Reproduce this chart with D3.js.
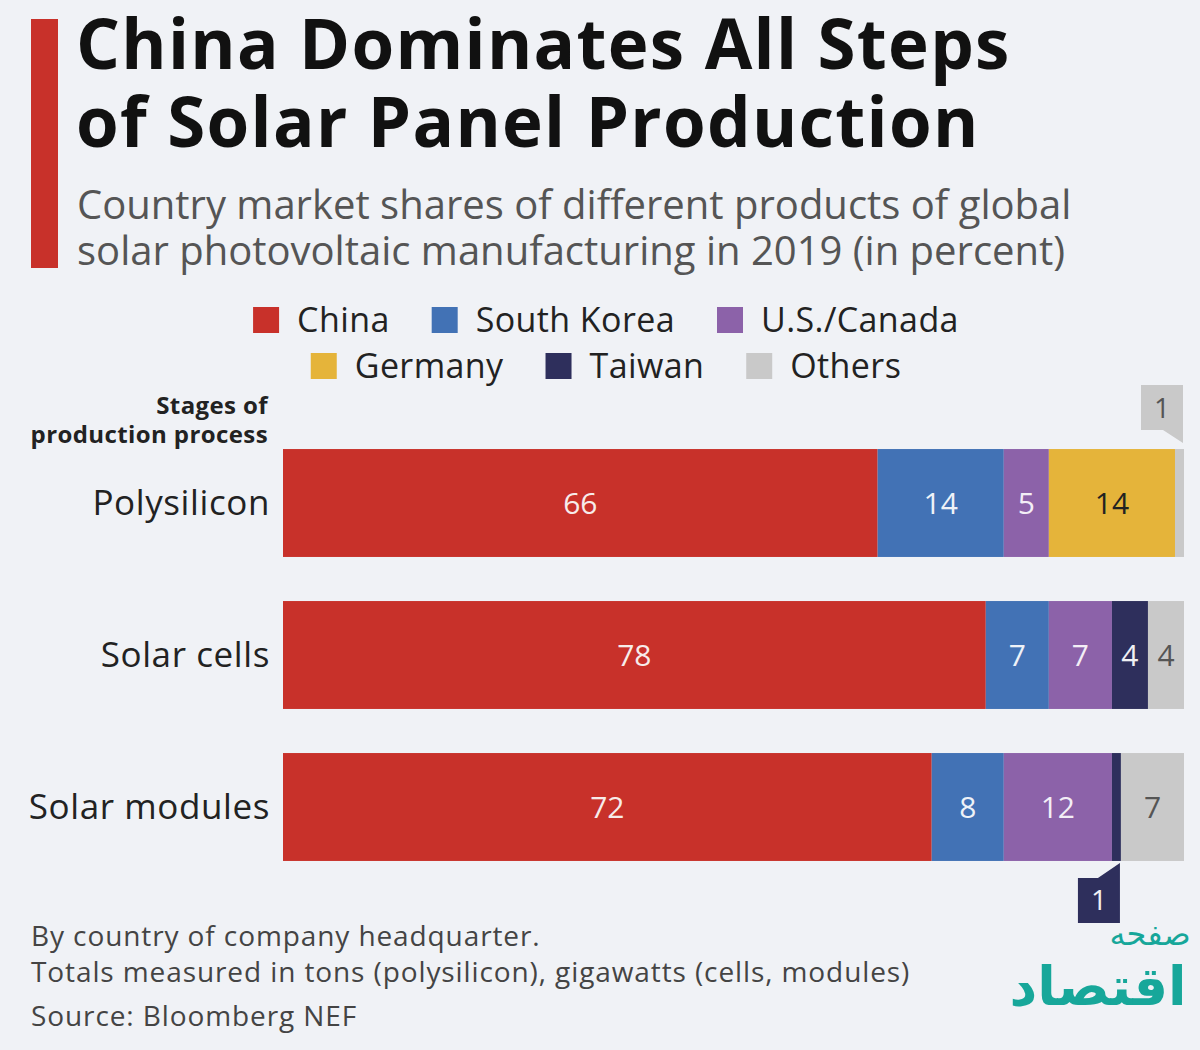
<!DOCTYPE html>
<html>
<head>
<meta charset="utf-8">
<script src="https://cdn.jsdelivr.net/npm/d3@7"></script>
<style>
  body { margin: 0; background: #f0f2f6; }
  svg { display: block; }
</style>
</head>
<body>
<div id="viz"></div>
<script>
// data (percent)
const stages = ["Polysilicon", "Solar cells", "Solar modules"];
const countries = ["China", "South Korea", "U.S./Canada", "Germany", "Taiwan", "Others"];
const china = [66, 78, 72];
const southKorea = [14, 7, 8];
const usCanada = [5, 7, 12];
const germany = [14, 0, 0];
const taiwan = [0, 4, 1];
const others = [1, 4, 7];

const colors = ["#c8312a", "#4272b5", "#8c62a9", "#e5b43a", "#2e2f5c", "#c9c9c9"];
const labelColors = ["#f7ecea", "#eef2f8", "#f3eef6", "#222222", "#f0f0f4", "#555555"];

const width = 1200, height = 1050;
const font = "'Open Sans', sans-serif";

const svg = d3.select("#viz").append("svg")
    .attr("width", width)
    .attr("height", height);

svg.append("rect").attr("width", width).attr("height", height).attr("fill", "#f0f2f6");

// red accent bar
svg.append("rect")
    .attr("x", 31).attr("y", 19)
    .attr("width", 27).attr("height", 249)
    .attr("fill", "#c8312a");

// title + subtitle
const title = svg.append("text")
    .attr("font-family", font)
    .attr("font-weight", 700)
    .attr("font-size", 69)
    .attr("letter-spacing", 1.3)
    .attr("fill", "#111");
title.append("tspan").attr("x", 76).attr("y", 69).text("China Dominates All Steps");
title.append("tspan").attr("x", 76).attr("y", 147).text("of Solar Panel Production");

const sub = svg.append("text")
    .attr("font-family", font)
    .attr("font-size", 40)
    .attr("fill", "#555");
sub.append("tspan").attr("x", 77).attr("y", 219).text("Country market shares of different products of global");
sub.append("tspan").attr("x", 77).attr("y", 265).text("solar photovoltaic manufacturing in 2019 (in percent)");

// legend, two centred rows
const legendRows = [[0, 1, 2], [3, 4, 5]];
const legendY = [320, 366];
legendRows.forEach((row, r) => {
    const g = svg.append("g");
    let x = 0;
    row.forEach(i => {
        g.append("rect")
            .attr("x", x).attr("y", legendY[r] - 13)
            .attr("width", 26).attr("height", 26)
            .attr("fill", colors[i]);
        const t = g.append("text")
            .attr("x", x + 44).attr("y", legendY[r] + 12)
            .attr("font-family", font)
            .attr("font-size", 34)
            .attr("letter-spacing", 0.4)
            .attr("fill", "#222")
            .text(countries[i]);
        x += 44 + t.node().getComputedTextLength() + 42;
    });
    const w = x - 42;
    g.attr("transform", `translate(${606 - w / 2},0)`);
});

// axis heading
const head = svg.append("text")
    .attr("font-family", font)
    .attr("font-weight", 700)
    .attr("font-size", 24)
    .attr("letter-spacing", 0.4)
    .attr("fill", "#222")
    .attr("text-anchor", "end");
head.append("tspan").attr("x", 268).attr("y", 414).text("Stages of");
head.append("tspan").attr("x", 268).attr("y", 443).text("production process");

// scales
const x = d3.scaleLinear().domain([0, 100]).range([283, 1184]);
const y = d3.scaleBand().domain(stages).range([427, 883]).paddingInner(0.29).paddingOuter(0.145);

const series = [china, southKorea, usCanada, germany, taiwan, others];
const rows = stages.map((s, j) => {
    const o = { stage: s };
    countries.forEach((c, i) => { o[c] = series[i][j]; });
    return o;
});
const stacked = d3.stack().keys(countries)(rows);

const layers = svg.append("g").selectAll("g")
    .data(stacked)
    .join("g")
    .attr("fill", (d, i) => colors[i]);

layers.selectAll("rect")
    .data(d => d)
    .join("rect")
    .attr("x", d => x(d[0]))
    .attr("y", d => y(d.data.stage))
    .attr("width", d => x(d[1]) - x(d[0]))
    .attr("height", y.bandwidth());

// values inside segments
stacked.forEach((layer, i) => {
    layer.forEach(d => {
        const v = d[1] - d[0];
        if (v < 2) return;
        svg.append("text")
            .attr("x", (x(d[0]) + x(d[1])) / 2)
            .attr("y", y(d.data.stage) + y.bandwidth() / 2 + 11)
            .attr("text-anchor", "middle")
            .attr("font-family", font)
            .attr("font-size", 30)
            .attr("fill", labelColors[i])
            .text(v);
    });
});

// small 1% callouts
stacked.forEach((layer, i) => {
    layer.forEach((d, j) => {
        const v = d[1] - d[0];
        if (v !== 1) return;
        const right = x(d[1]) - 1;
        const bw = 42, bh = 45;
        const top = y(d.data.stage), bottom = top + y.bandwidth();
        let pts;
        if (j === 0) {
            // above the bar
            const by = top - 64;
            pts = [[right - bw, by], [right, by], [right, top - 6], [right - 20, by + bh], [right - bw, by + bh]];
        } else {
            const by = bottom + 17;
            pts = [[right - bw, by], [right - 22, by], [right, bottom + 2], [right, by + bh], [right - bw, by + bh]];
        }
        svg.append("path")
            .attr("d", d3.line()(pts) + "Z")
            .attr("fill", colors[i]);
        const ty = j === 0 ? top - 64 + bh / 2 + 10 : bottom + 17 + bh / 2 + 10;
        svg.append("text")
            .attr("x", right - bw / 2)
            .attr("y", ty)
            .attr("text-anchor", "middle")
            .attr("font-family", font)
            .attr("font-size", 28)
            .attr("fill", i === 5 ? "#555" : "#f0f0f4")
            .text(v);
    });
});

// category labels
svg.append("g").selectAll("text")
    .data(stages)
    .join("text")
    .attr("x", 270)
    .attr("y", d => y(d) + y.bandwidth() / 2 + 12)
    .attr("text-anchor", "end")
    .attr("font-family", font)
    .attr("font-size", 35)
    .attr("letter-spacing", 0.6)
    .attr("fill", "#222")
    .text(d => d);

// notes
const notes = ["By country of company headquarter.",
    "Totals measured in tons (polysilicon), gigawatts (cells, modules)",
    "Source: Bloomberg NEF"];
const noteY = [946, 982, 1026];
svg.append("g").selectAll("text")
    .data(notes)
    .join("text")
    .attr("x", 31)
    .attr("y", (d, i) => noteY[i])
    .attr("font-family", font)
    .attr("font-size", 28)
    .attr("letter-spacing", 0.9)
    .attr("fill", "#444")
    .text(d => d);

// watermark of the reposting site
svg.append("text")
    .attr("x", 1098).attr("y", 1005)
    .attr("text-anchor", "middle")
    .attr("font-family", "'DejaVu Sans', sans-serif")
    .attr("font-weight", 700)
    .attr("font-size", 54)
    .attr("fill", "#17a79a")
    .text("اقتصاد");
svg.append("text")
    .attr("x", 1150).attr("y", 945)
    .attr("text-anchor", "middle")
    .attr("font-family", "'DejaVu Sans', sans-serif")
    .attr("font-size", 32)
    .attr("fill", "#17a79a")
    .text("صفحه");
</script>
</body>
</html>
